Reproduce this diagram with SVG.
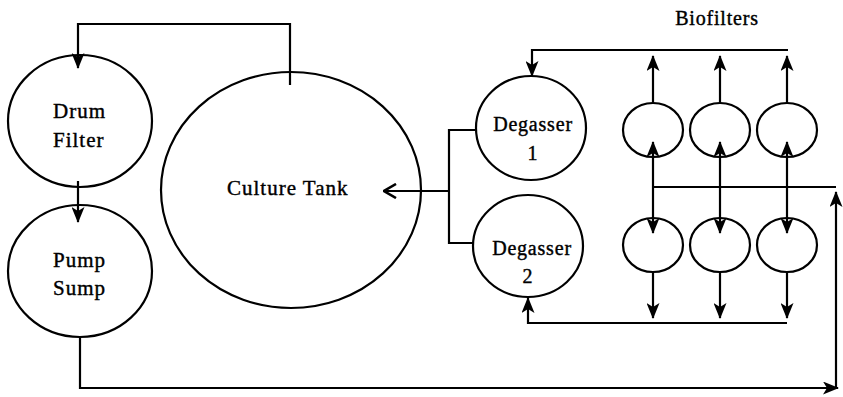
<svg xmlns="http://www.w3.org/2000/svg" width="843" height="397" viewBox="0 0 843 397">
<style>
.n{fill:none;stroke:#000;stroke-width:2.2}
.c{fill:none;stroke:#000;stroke-width:2.2}
.t{font-family:"Liberation Serif","Times New Roman",serif;font-size:20px;fill:#000;stroke:#000;stroke-width:0.4;letter-spacing:0.8px}
.l{font-size:21px;letter-spacing:1px}
</style>
<defs>
<marker id="ah" viewBox="0 0 16 13" refX="15" refY="6.5" markerWidth="16" markerHeight="13" orient="auto" markerUnits="userSpaceOnUse"><path d="M0,0 L16,6.5 L0,13 L4,6.5 z" fill="#000"/></marker>
<marker id="open" viewBox="0 0 14 16" refX="13" refY="8" markerWidth="14" markerHeight="16" orient="auto" markerUnits="userSpaceOnUse"><path d="M1,1 L13,8 L1,15" fill="none" stroke="#000" stroke-width="2.6"/></marker>
</defs>
<rect width="843" height="397" fill="#fff"/>
<g id="connectors">
<path class="c" d="M290,85 V24 H78 V68" marker-end="url(#ah)"/>
<path class="c" d="M78,181 V222" marker-end="url(#ah)"/>
<path class="c" d="M80,337 V388 H838" marker-end="url(#ah)"/>
<path class="c" d="M836,388 V192" marker-end="url(#ah)"/>
<path class="c" d="M653,187 H836"/>
<path class="c" d="M477,130 H449 V243 H473"/>
<path class="c" d="M449,191 H384" marker-end="url(#open)"/>
<path class="c" d="M788,50 H532 V76" marker-end="url(#ah)"/>
<path class="c" d="M653,103 V56" marker-end="url(#ah)"/>
<path class="c" d="M720,103 V56" marker-end="url(#ah)"/>
<path class="c" d="M787,103 V56" marker-end="url(#ah)"/>
<path class="c" d="M653,187 V142" marker-end="url(#ah)"/>
<path class="c" d="M720,187 V142" marker-end="url(#ah)"/>
<path class="c" d="M787,187 V142" marker-end="url(#ah)"/>
<path class="c" d="M653,187 V233" marker-end="url(#ah)"/>
<path class="c" d="M720,187 V233" marker-end="url(#ah)"/>
<path class="c" d="M787,187 V233" marker-end="url(#ah)"/>
<path class="c" d="M653,271 V318" marker-end="url(#ah)"/>
<path class="c" d="M720,271 V318" marker-end="url(#ah)"/>
<path class="c" d="M787,271 V318" marker-end="url(#ah)"/>
<path class="c" d="M787,323 H528 V298" marker-end="url(#ah)"/>
</g>
<g id="drum-filter">
<ellipse class="n" cx="80" cy="121" rx="72" ry="66"/>
<text class="t l" x="53" y="118">Drum</text>
<text class="t l" x="53" y="147">Filter</text>
</g>
<g id="pump-sump">
<ellipse class="n" cx="80" cy="271" rx="72" ry="66"/>
<text class="t l" x="53" y="267">Pump</text>
<text class="t l" x="53" y="295">Sump</text>
</g>
<g id="culture-tank">
<ellipse class="n" cx="291" cy="190" rx="130" ry="118"/>
<text class="t l" x="227" y="195">Culture Tank</text>
</g>
<g id="degasser-1">
<ellipse class="n" cx="531" cy="128" rx="55" ry="52"/>
<text class="t" x="533" y="131" text-anchor="middle">Degasser</text>
<text class="t" x="533" y="160" text-anchor="middle">1</text>
</g>
<g id="degasser-2">
<ellipse class="n" cx="528" cy="246" rx="55" ry="51"/>
<text class="t" x="532" y="255" text-anchor="middle">Degasser</text>
<text class="t" x="528" y="283" text-anchor="middle">2</text>
</g>
<g id="biofilters-label">
<text class="t" x="717" y="25" text-anchor="middle">Biofilters</text>
</g>
<g id="biofilter-1"><ellipse class="n" cx="653" cy="130" rx="30" ry="27"/></g>
<g id="biofilter-2"><ellipse class="n" cx="720" cy="130" rx="30" ry="27"/></g>
<g id="biofilter-3"><ellipse class="n" cx="787" cy="130" rx="30" ry="27"/></g>
<g id="biofilter-4"><ellipse class="n" cx="653" cy="245" rx="30" ry="27"/></g>
<g id="biofilter-5"><ellipse class="n" cx="720" cy="245" rx="30" ry="27"/></g>
<g id="biofilter-6"><ellipse class="n" cx="787" cy="245" rx="30" ry="27"/></g>
</svg>
